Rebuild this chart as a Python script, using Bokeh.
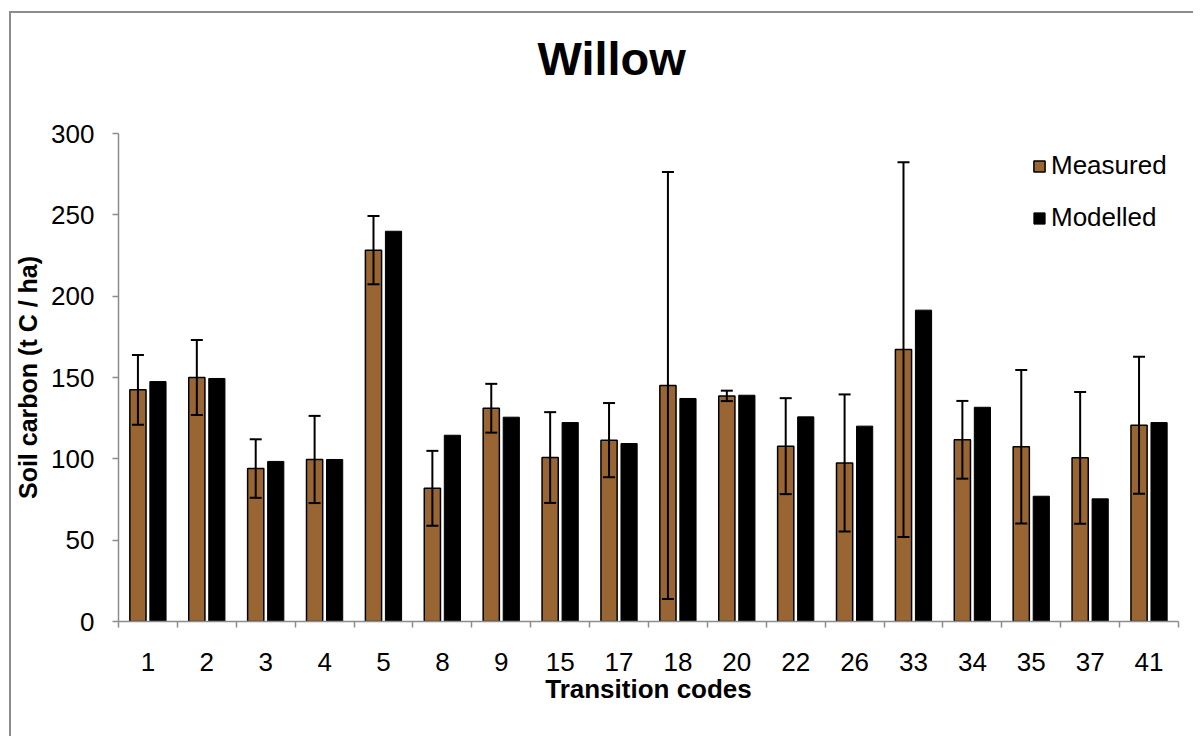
from bokeh.plotting import figure
from bokeh.models import ColumnDataSource, FixedTicker, Whisker, TeeHead, Range1d, Legend, LegendItem, Title
from bokeh.embed import file_html
from bokeh.resources import INLINE

codes = ["1", "2", "3", "4", "5", "8", "9", "15", "17", "18", "20", "22", "26", "33", "34", "35", "37", "41"]
measured = [142.4, 150.0, 94.0, 99.6, 228.3, 81.9, 131.1, 100.8, 111.5, 145.1, 138.7, 107.8, 97.5, 167.2, 111.7, 107.4, 100.6, 120.7]
modelled = [147.5, 149.4, 98.4, 99.6, 239.9, 114.5, 125.6, 122.3, 109.4, 137.1, 139.1, 125.8, 120.1, 191.4, 131.7, 77.0, 75.4, 122.3]
measured_err = [21.5, 23.1, 18.0, 26.8, 21.0, 23.0, 15.0, 27.9, 22.8, 131.2, 3.2, 29.5, 42.1, 115.2, 23.9, 47.2, 40.5, 42.1]
y_ticks = [0, 50, 100, 150, 200, 250, 300]

FONT = "Liberation Sans"
n = len(codes)
centers = [i + 0.5 for i in range(n)]
off = 0.17
bw = 0.275

src = ColumnDataSource(dict(
    xm=[c - off for c in centers],
    xo=[c + off for c in centers],
    measured=measured,
    modelled=modelled,
    upper=[m + e for m, e in zip(measured, measured_err)],
    lower=[m - e for m, e in zip(measured, measured_err)],
))

p = figure(width=1184, height=725, x_range=Range1d(0, n), y_range=Range1d(0, 300),
           title=None, output_backend="svg", toolbar_location=None,
           min_border_left=107, min_border_right=17, min_border_top=120, min_border_bottom=117,
           styles={"border-left": "2px solid #8c8c8c", "border-top": "2px solid #8c8c8c",
                   "margin-left": "9px", "margin-top": "11px"})

p.outline_line_color = None
p.grid.visible = False

r1 = p.vbar(x="xm", width=bw, top="measured", bottom=0, source=src,
            fill_color="#996633", line_color="black", line_width=1.5)
r2 = p.vbar(x="xo", width=bw, top="modelled", bottom=0, source=src,
            fill_color="black", line_color="black", line_width=1)

w = Whisker(source=src, base="xm", upper="upper", lower="lower",
            line_color="black", line_width=2, level="annotation",
            upper_head=TeeHead(size=12, line_width=2, line_color="black"),
            lower_head=TeeHead(size=12, line_width=2, line_color="black"))
p.add_layout(w)

legend = Legend(items=[LegendItem(label="Measured", renderers=[r1]),
                       LegendItem(label="Modelled", renderers=[r2])],
                location=(914, 388), glyph_width=14, glyph_height=14,
                label_text_font=FONT, label_text_font_size="26px", label_text_color="black",
                label_height=30, spacing=21, padding=0, margin=0, label_standoff=5,
                border_line_color=None, background_fill_alpha=0)
p.add_layout(legend, "center")

# spacer between frame and title
p.add_layout(Title(text="\u00a0", text_font_size="10px", standoff=36), "above")
p.add_layout(Title(text="Willow", text_font=FONT, text_font_size="47px", text_font_style="bold",
                   text_color="black", align="left", offset=419, standoff=0), "above")

xa = p.xaxis[0]
xa.ticker = FixedTicker(ticks=centers, minor_ticks=list(range(n + 1)))
xa.major_label_overrides = {c: code for c, code in zip(centers, codes)}
xa.major_tick_out = 0
xa.major_tick_in = 0
xa.minor_tick_out = 6
xa.minor_tick_in = 0
xa.minor_tick_line_color = "#8c8c8c"
xa.minor_tick_line_width = 1.5
xa.axis_line_color = "#8c8c8c"
xa.axis_line_width = 1.5
xa.major_label_standoff = 25
xa.major_label_text_font = FONT
xa.major_label_text_font_size = "26px"
xa.major_label_text_color = "black"
xa.axis_label = "Transition codes"
xa.axis_label_text_font = FONT
xa.axis_label_text_font_size = "26px"
xa.axis_label_text_font_style = "bold"
xa.axis_label_text_color = "black"
xa.axis_label_standoff = 0

ya = p.yaxis[0]
ya.ticker = FixedTicker(ticks=y_ticks)
ya.major_tick_out = 6
ya.major_tick_in = 0
ya.minor_tick_out = 0
ya.minor_tick_in = 0
ya.major_tick_line_color = "#8c8c8c"
ya.major_tick_line_width = 1.5
ya.axis_line_color = "#8c8c8c"
ya.axis_line_width = 1.5
ya.major_label_standoff = 18
ya.major_label_text_font = FONT
ya.major_label_text_font_size = "26px"
ya.major_label_text_color = "black"
ya.axis_label = "Soil carbon (t C / ha)"
ya.axis_label_text_font = FONT
ya.axis_label_text_font_size = "25px"
ya.axis_label_text_font_style = "bold"
ya.axis_label_text_color = "black"
ya.axis_label_standoff = 6

open("out.html", "w").write(file_html(p, INLINE))
